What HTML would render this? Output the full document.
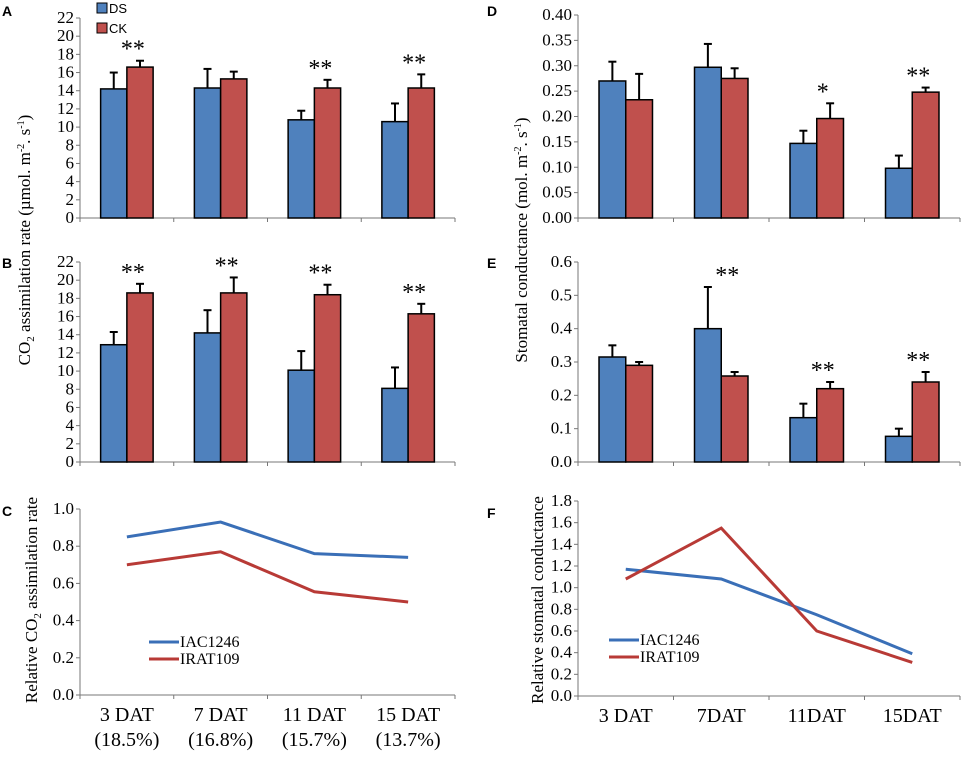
<!DOCTYPE html>
<html><head><meta charset="utf-8"><style>
body{margin:0;background:#fff;width:965px;height:753px;overflow:hidden}
svg text{font-family:"Liberation Serif",serif}
svg text.pl,svg text.sans{font-family:"Liberation Sans",sans-serif}
.pl{font-weight:bold;font-size:14px}
</style></head><body>
<svg id="fig" width="965" height="753">
<text class="pl" x="2" y="16">A</text>
<text class="pl" x="2" y="268">B</text>
<text class="pl" x="2" y="516">C</text>
<text class="pl" x="487" y="16">D</text>
<text class="pl" x="487" y="268">E</text>
<text class="pl" x="487" y="518">F</text>
<text transform="translate(30,240) rotate(-90)" text-anchor="middle" font-size="17">CO<tspan font-size="11" dy="4">2</tspan><tspan dy="-4"> assimilation rate (µmol. m</tspan><tspan font-size="10" dy="-6">-2</tspan><tspan dy="6">. s</tspan><tspan font-size="10" dy="-6">-1</tspan><tspan dy="6">)</tspan></text>
<text transform="translate(527,240) rotate(-90)" text-anchor="middle" font-size="17">Stomatal conductance (mol. m<tspan font-size="10" dy="-6">-2</tspan><tspan dy="6">. s</tspan><tspan font-size="10" dy="-6">-1</tspan><tspan dy="6">)</tspan></text>
<text transform="translate(37,600) rotate(-90)" text-anchor="middle" font-size="17">Relative CO<tspan font-size="11" dy="4">2</tspan><tspan dy="-4"> assimilation rate</tspan></text>
<text transform="translate(543,600) rotate(-90)" text-anchor="middle" font-size="17">Relative stomatal conductance</text>
<g>
<rect x="97" y="3" width="10" height="10" fill="#4f81bd" stroke="#000"/>
<text class="sans" x="109" y="13" font-size="13">DS</text>
<rect x="97" y="23" width="10" height="10" fill="#c0504d" stroke="#000"/>
<text class="sans" x="109" y="33" font-size="13">CK</text>
</g>
</svg>
<script>
const aDS=[14.2,14.3,10.8,10.6], aDSe=[16.0,16.4,11.8,12.6], aCK=[16.6,15.3,14.3,14.3], aCKe=[17.3,16.1,15.2,15.8], aSig=["**","","**","**"];
const bDS=[12.9,14.2,10.1,8.1], bDSe=[14.3,16.7,12.2,10.4], bCK=[18.6,18.6,18.4,16.3], bCKe=[19.6,20.3,19.5,17.4], bSig=["**","**","**","**"];
const dDS=[0.270,0.297,0.147,0.098], dDSe=[0.308,0.343,0.172,0.123], dCK=[0.233,0.275,0.196,0.248], dCKe=[0.284,0.295,0.226,0.257], dSig=["","","*","**"];
const eDS=[0.315,0.40,0.133,0.077], eDSe=[0.35,0.525,0.175,0.10], eCK=[0.29,0.258,0.22,0.24], eCKe=[0.30,0.27,0.24,0.27], eSig=["","**","**","**"];
const cIAC=[0.85,0.93,0.76,0.74], cIRAT=[0.70,0.77,0.555,0.50];
const fIAC=[1.17,1.08,0.75,0.39], fIRAT=[1.08,1.55,0.60,0.31];
const aTicks=[0,2,4,6,8,10,12,14,16,18,20,22];
const dTicks=["0.00","0.05","0.10","0.15","0.20","0.25","0.30","0.35","0.40"];
const eTicks=["0.0","0.1","0.2","0.3","0.4","0.5","0.6"];
const cTicks=["0.0","0.2","0.4","0.6","0.8","1.0"];
const fTicks=["0.0","0.2","0.4","0.6","0.8","1.0","1.2","1.4","1.6","1.8"];
const cCats=[["3 DAT","(18.5%)"],["7 DAT","(16.8%)"],["11 DAT","(15.7%)"],["15 DAT","(13.7%)"]];
const fCats=["3 DAT","7DAT","11DAT","15DAT"];
const svg=document.getElementById('fig'),NS="http://www.w3.org/2000/svg";
function mk(t,a,p){const e=document.createElementNS(NS,t);for(const k in a)e.setAttribute(k,a[k]);(p||svg).appendChild(e);return e;}
function axes(g,x0,x1,y0,y1,ticks,max){
  const ys=v=>y0-(v/max)*(y0-y1);
  mk('line',{x1:x0,y1:y0,x2:x1,y2:y0,stroke:'#777'},g);
  mk('line',{x1:x0,y1:y0,x2:x0,y2:y1,stroke:'#777'},g);
  ticks.forEach(t=>{const y=ys(+t);mk('line',{x1:x0-4,y1:y,x2:x0,y2:y,stroke:'#777'},g);
    const tx=mk('text',{x:x0-6,y:y+5,'text-anchor':'end','font-size':17},g);tx.textContent=t;
    
    });
  const gw=(x1-x0)/4;
  for(let i=0;i<=4;i++)mk('line',{x1:x0+i*gw,y1:y0,x2:x0+i*gw,y2:y0+4,stroke:'#777'},g);
  return ys;}
function bars(name,x0,x1,y0,y1,ticks,max,ds,dse,ck,cke,sig){
  const g=mk('g',{});
  
  
  const ys=axes(g,x0,x1,y0,y1,ticks,max);const gw=(x1-x0)/4,bw=gw*0.28;
  ds.forEach((v,i)=>{
    const xc=x0+i*gw+gw/2;
    [[ds[i],dse[i],'#4f81bd',xc-bw,'ds'],[ck[i],cke[i],'#c0504d',xc,'ck']].forEach(([val,e,c,x,s])=>{
      mk('line',{x1:x+bw/2,y1:ys(e),x2:x+bw/2,y2:ys(val),stroke:'#000','stroke-width':2},g);
      mk('line',{x1:x+bw/2-4,y1:ys(e),x2:x+bw/2+4,y2:ys(e),stroke:'#000','stroke-width':2},g);
      const r=mk('rect',{x:x,y:ys(val),width:bw,height:y0-ys(val),fill:c,stroke:'#000','stroke-width':1.5},g);
      
      
    });
    if(sig[i]){const t=mk('text',{x:xc+6,y:ys(Math.max(dse[i],cke[i]))-4,'text-anchor':'middle','font-size':24},g);t.textContent=sig[i];
      
      }
  });}
bars('chart-a',80,455,218,18,aTicks,22,aDS,aDSe,aCK,aCKe,aSig);
bars('chart-b',80,455,462,262,aTicks,22,bDS,bDSe,bCK,bCKe,bSig);
bars('chart-d',578,960,218,15,dTicks,0.40,dDS,dDSe,dCK,dCKe,dSig);
bars('chart-e',578,960,462,262,eTicks,0.6,eDS,eDSe,eCK,eCKe,eSig);
function lines(name,x0,x1,y0,y1,ticks,max,s1,s2,cats,lx,ly){
  const g=mk('g',{});
  
  
  const ys=axes(g,x0,x1,y0,y1,ticks,max);const gw=(x1-x0)/4;
  [[s1,'#3a6fb7','IAC1246'],[s2,'#b83a36','IRAT109']].forEach(([s,c,lab],k)=>{
    const p=mk('polyline',{points:s.map((v,i)=>(x0+i*gw+gw/2)+','+ys(v)).join(' '),fill:'none',stroke:c,'stroke-width':3},g);
    
    
    mk('line',{x1:lx,y1:ly+k*17,x2:lx+30,y2:ly+k*17,stroke:c,'stroke-width':3},g);
    const t=mk('text',{x:lx+31,y:ly+k*17+5,'font-size':16},g);t.textContent=lab;
    
    
  });
  cats.forEach((c,i)=>{const xc=x0+i*gw+gw/2;const arr=Array.isArray(c)?c:[c];
    arr.forEach((s,j)=>{const t=mk('text',{x:xc,y:y0+26+j*25,'text-anchor':'middle','font-size':20},g);t.textContent=s;
      
      });});}
lines('chart-c',80,455,695,509,cTicks,1.0,cIAC,cIRAT,cCats,149,642);
lines('chart-f',578,960,696,501,fTicks,1.8,fIAC,fIRAT,fCats,609,640);
</script>
</body></html>
